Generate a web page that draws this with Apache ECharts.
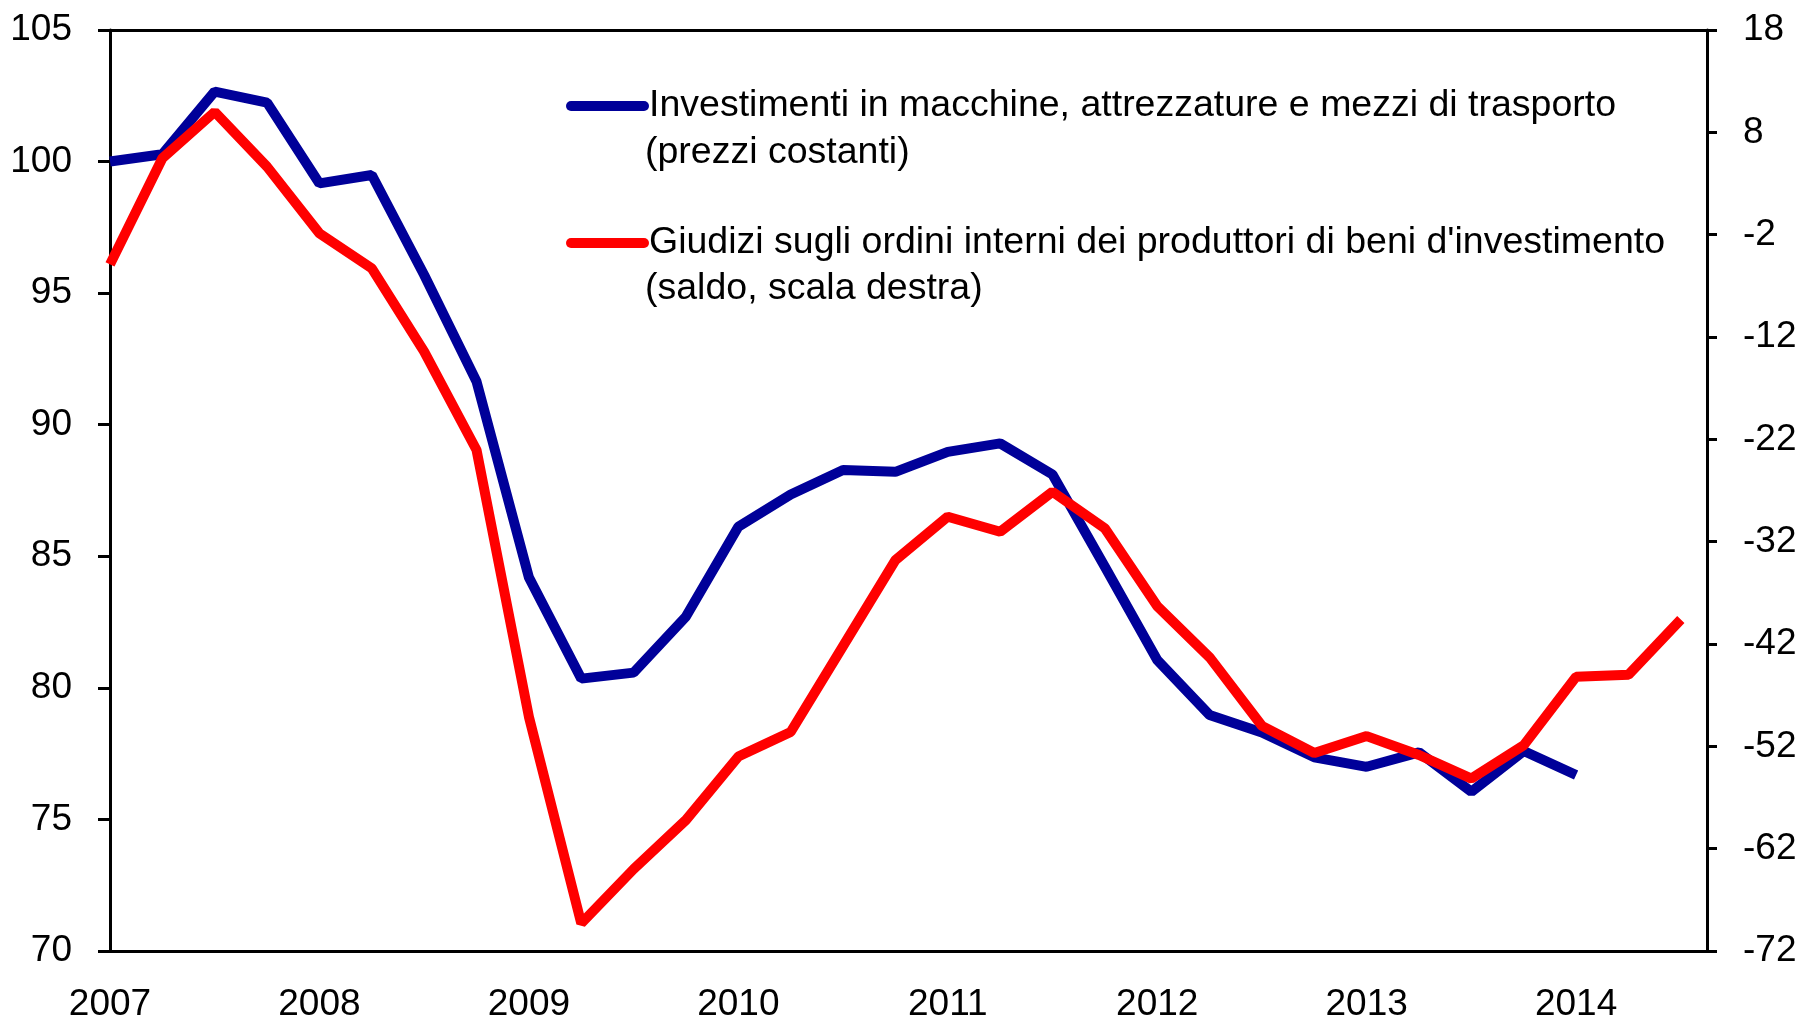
<!DOCTYPE html>
<html>
<head>
<meta charset="utf-8">
<script src="https://cdn.jsdelivr.net/npm/echarts@6/dist/echarts.min.js"></script>
<style>
  html, body { margin: 0; padding: 0; background: #fff; }
  #chart { width: 1800px; height: 1017px; }
</style>
</head>
<body>
<div id="chart"></div>
<script>
// quarterly data, 2007Q1 ...
var years = ['2007', '2008', '2009', '2010', '2011', '2012', '2013', '2014'];
var yearPos = [0, 4, 8, 12, 16, 20, 24, 28];
var leftTicks = [70, 75, 80, 85, 90, 95, 100, 105];
var rightTicks = [-72, -62, -52, -42, -32, -22, -12, -2, 8, 18];

var nameInv = 'Investimenti in macchine, attrezzature e mezzi di trasporto';
var subInv = '(prezzi costanti)';
var nameOrd = "Giudizi sugli ordini interni dei produttori di beni d'investimento";
var subOrd = '(saldo, scala destra)';

var investimenti = [
  100.0, 100.28, 102.66, 102.24, 99.17, 99.49, 95.69, 91.64,
  84.2, 80.35, 80.58, 82.71, 86.12, 87.35, 88.28, 88.21,
  88.97, 89.29, 88.11, 84.6, 81.06, 78.97, 78.3, 77.36,
  77.0, 77.55, 76.05, 77.6, 76.69
];
var ordini = [
  -4.9, 5.46, 10.0, 4.64, -1.87, -5.29, -13.43, -23.04,
  -49.1, -69.3, -64.0, -59.2, -53.0, -50.6, -42.2, -33.8,
  -29.56, -31.03, -27.12, -30.7, -38.3, -43.3, -50.0, -52.65,
  -51.0, -52.85, -55.15, -51.9, -45.2, -45.0, -39.6
];

var font = "'Liberation Sans', Arial, sans-serif";
var chart = echarts.init(document.getElementById('chart'));

var axisLine = { show: true, onZero: false, lineStyle: { color: '#000', width: 3 } };
var labelStyle = { color: '#000', fontSize: 37, fontFamily: font };
var tickStyle = { color: '#000', width: 3 };

var option = {
  animation: false,
  backgroundColor: '#fff',
  grid: { left: 110, right: 93, top: 30, bottom: 66, containLabel: false, outerBoundsMode: 'none' },
  legend: {
    data: [nameInv, nameOrd],
    orient: 'vertical',
    left: 566,
    top: 83,
    padding: 0,
    itemWidth: 73,
    itemHeight: 10,
    itemGap: 91,
    textStyle: { color: '#000', fontSize: 37.5, lineHeight: 46, fontFamily: font },
    lineStyle: { width: 10, cap: 'round' }
  },
  graphic: [
    { type: 'text', left: 645, top: 134, style: { text: subInv, fill: '#000', font: '37.5px ' + font } },
    { type: 'text', left: 645, top: 270, style: { text: subOrd, fill: '#000', font: '37.5px ' + font } }
  ],
  xAxis: [
    {
      type: 'value', min: 0, max: 30.5, position: 'bottom',
      axisLine: axisLine,
      axisTick: { show: false },
      splitLine: { show: false },
      axisLabel: Object.assign({
        customValues: yearPos,
        margin: 35,
        formatter: function (v) { return years[yearPos.indexOf(v)]; }
      }, labelStyle)
    },
    {
      type: 'value', min: 0, max: 30.5, position: 'top',
      axisLine: axisLine,
      axisTick: { show: false },
      splitLine: { show: false },
      axisLabel: { show: false }
    }
  ],
  yAxis: [
    {
      type: 'value', min: leftTicks[0], max: leftTicks[leftTicks.length - 1], interval: 5,
      position: 'left',
      axisLine: axisLine,
      axisTick: { show: true, length: 12, lineStyle: tickStyle },
      splitLine: { show: false },
      axisLabel: Object.assign({ margin: 38 }, labelStyle)
    },
    {
      type: 'value', min: rightTicks[0], max: rightTicks[rightTicks.length - 1], interval: 10,
      position: 'right',
      axisLine: axisLine,
      axisTick: { show: true, length: 10, lineStyle: tickStyle },
      splitLine: { show: false },
      axisLabel: Object.assign({ margin: 36 }, labelStyle)
    }
  ],
  series: [
    {
      name: nameInv,
      type: 'line',
      xAxisIndex: 0,
      yAxisIndex: 0,
      symbol: 'none',
      color: '#000099',
      lineStyle: { width: 10, color: '#000099' },
      data: investimenti.map(function (v, i) { return [i, v]; })
    },
    {
      name: nameOrd,
      type: 'line',
      xAxisIndex: 0,
      yAxisIndex: 1,
      symbol: 'none',
      color: '#ff0000',
      lineStyle: { width: 10, color: '#ff0000' },
      data: ordini.map(function (v, i) { return [i, v]; })
    }
  ]
};

chart.setOption(option);
</script>
</body>
</html>
